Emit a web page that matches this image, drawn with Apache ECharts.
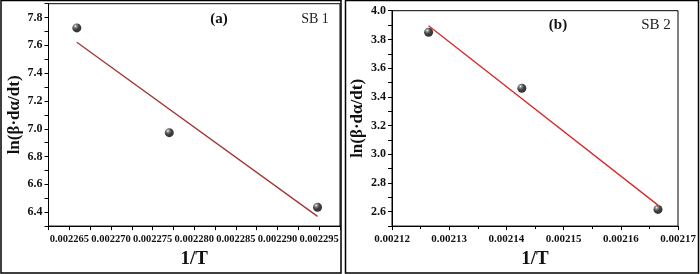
<!DOCTYPE html>
<html>
<head>
<meta charset="utf-8">
<script src="https://cdn.jsdelivr.net/npm/echarts@6/dist/echarts.min.js"></script>
<style>
html,body{margin:0;padding:0;background:#fff;}
#c{width:700px;height:274px;}
</style>
</head>
<body>
<div id="c"></div>
<script>
// Panel (a) SB 1
const xA = [0.0022659, 0.0022770, 0.0022948];
const yA = [7.726, 6.972, 6.436];
const fitXA = [0.0022659, 0.0022948];
const fitYA = [7.622, 6.370];
// Panel (b) SB 2
const xB = [0.0021264, 0.0021427, 0.0021665];
const yB = [3.850, 3.460, 2.616];
const fitXB = [0.0021264, 0.0021665];
const fitYB = [3.895, 2.646];

const titleA = "(a)", labelA = "SB 1";
const titleB = "(b)", labelB = "SB 2";
const yName = "ln(β·dα/dt)";
const xName = "1/T";

const FONT = "'Liberation Serif','Times New Roman',serif";

const chart = echarts.init(document.getElementById('c'), null, {renderer:'canvas'});

const ball = {
  type:'radial', x:0.35, y:0.3, r:0.7,
  colorStops:[{offset:0,color:'#ffffff'},{offset:0.2,color:'#777777'},{offset:0.55,color:'#111111'},{offset:1,color:'#000000'}]
};

function axisLine(){ return {show:true, onZero:false, lineStyle:{color:'#000', width:1}}; }

function xAxis(idx, min, max, interval, fmt, minor, fs){
  return {
    type:'value', gridIndex:idx, min:min, max:max, interval:interval,
    axisLine:axisLine(),
    axisTick:{show:true, inside:false, length:4, lineStyle:{color:'#000'}},
    minorTick: minor ? {show:true, splitNumber:2, length:3, lineStyle:{color:'#000'}} : {show:false},
    splitLine:{show:false},
    axisLabel:{formatter:fmt, color:'#111', fontFamily:FONT, fontWeight:'bold', fontSize:fs, margin:8},
    name:xName, nameLocation:'middle', nameGap:33,
    nameTextStyle:{fontFamily:FONT, fontWeight:'bold', fontSize:19, color:'#111', verticalAlign:'middle'}
  };
}
function yAxis(idx, min, max, nameGap){
  return {
    type:'value', gridIndex:idx, min:min, max:max, interval:0.1,
    axisLine:axisLine(),
    axisTick:{show:true, inside:false, length:4, lineStyle:{color:'#000'}},
    splitLine:{show:false},
    axisLabel:{
      formatter:function(v){ return Math.round(v*10)%2===0 ? v.toFixed(1) : ''; },
      color:'#111', fontFamily:FONT, fontWeight:'bold', fontSize:12, margin:6
    },
    name:yName, nameLocation:'middle', nameGap:nameGap, nameRotate:90,
    nameTextStyle:{fontFamily:FONT, fontWeight:'bold', fontSize:17, color:'#111', verticalAlign:'middle'}
  };
}

const option = {
  animation:false,
  backgroundColor:'#fff',
  grid:[
    {left:48.5, top:3.7, width:291.5, height:224, show:true, borderColor:'#000', borderWidth:1, backgroundColor:'transparent'},
    {left:392, top:10.7, width:286, height:217, show:true, borderColor:'#000', borderWidth:1, backgroundColor:'transparent'}
  ],
  xAxis:[
    xAxis(0, 0.0022625, 0.0022975, 0.0000025, function(v){ return Math.round(v/0.0000025)%2===0 ? v.toFixed(6) : ''; }, false, 10.5),
    xAxis(1, 0.00212, 0.00217, 0.00001, function(v){ return v.toFixed(5); }, true, 11)
  ],
  yAxis:[ yAxis(0, 6.3, 7.9, 34), yAxis(1, 2.5, 4.0, 34) ],
  series:[
    {type:'line', xAxisIndex:0, yAxisIndex:0, data:fitXA.map((x,i)=>[x,fitYA[i]]), symbol:'none', lineStyle:{color:'#a03530', width:1.3}, z:2},
    {type:'scatter', xAxisIndex:0, yAxisIndex:0, data:xA.map((x,i)=>[x,yA[i]]), symbol:'circle', symbolSize:9, itemStyle:{color:ball}, z:3},
    {type:'line', xAxisIndex:1, yAxisIndex:1, data:fitXB.map((x,i)=>[x,fitYB[i]]), symbol:'none', lineStyle:{color:'#d42a2a', width:1.3}, z:2},
    {type:'scatter', xAxisIndex:1, yAxisIndex:1, data:xB.map((x,i)=>[x,yB[i]]), symbol:'circle', symbolSize:9, itemStyle:{color:ball}, z:3}
  ],
  graphic:[
    {type:'rect', shape:{x:1, y:0.5, width:340, height:272.5}, style:{fill:'none', stroke:'#000', lineWidth:1.5}, silent:true},
    {type:'rect', shape:{x:345.5, y:0.5, width:353, height:272.5}, style:{fill:'none', stroke:'#000', lineWidth:1.5}, silent:true},
    {type:'text', x:219, y:19, style:{text:titleA, font:"bold 15px "+FONT, fill:'#111', align:'center', verticalAlign:'middle'}},
    {type:'text', x:315, y:19, style:{text:labelA, font:"14px "+FONT, fill:'#222', align:'center', verticalAlign:'middle'}},
    {type:'text', x:558, y:25, style:{text:titleB, font:"bold 15px "+FONT, fill:'#111', align:'center', verticalAlign:'middle'}},
    {type:'text', x:656, y:25, style:{text:labelB, font:"15px "+FONT, fill:'#222', align:'center', verticalAlign:'middle'}}
  ]
};
chart.setOption(option);
</script>
</body>
</html>
